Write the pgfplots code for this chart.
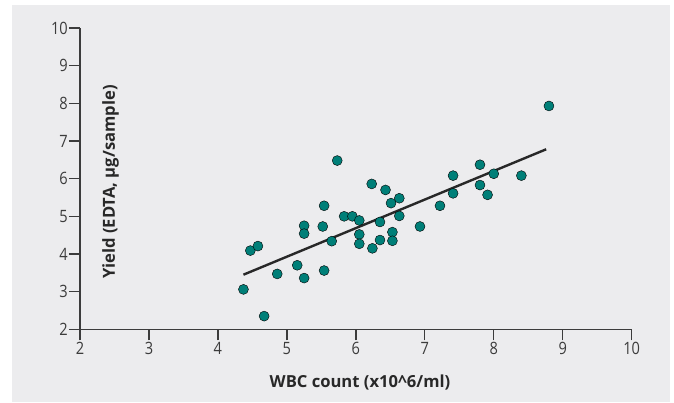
\documentclass[border=0pt]{standalone}
\usepackage{pgfplots}
\pgfplotsset{compat=1.18}
\usepackage{fontspec}
\setmainfont{Open Sans}[FakeStretch=0.86]
\newfontfamily\titlefont{Open Sans}
\definecolor{bg}{RGB}{236,236,238}
\definecolor{teal1}{RGB}{0,127,120}
\definecolor{axgray}{RGB}{60,60,60}
\definecolor{txt}{RGB}{40,40,40}
\begin{document}
\begin{tikzpicture}[x=1pt,y=1pt]
\path[use as bounding box] (-80,-72.7) rectangle (594,329.3);
\fill[bg] (-68,-72.7) rectangle (590,324.3);
\begin{axis}[
  at={(0,0)}, anchor=south west,
  scale only axis, width=551.7pt, height=301.3pt,
  xmin=2, xmax=10, ymin=2, ymax=10,
  xtick={2,3,...,10}, ytick={2,3,...,10},
  axis x line*=bottom, axis y line*=left,
  axis line style={axgray, line width=1.3pt},
  tick style={axgray, line width=1.3pt},
  tick align=outside, major tick length=11pt,
  /pgf/number format/assume math mode=true,
  ticklabel style={font=\fontsize{17}{20}\selectfont, text=axgray},
  yticklabel style={inner sep=1pt},
  xticklabel style={inner sep=2pt},
  clip=false,
  xlabel={WBC count (x10\textasciicircum 6/ml)},
  xlabel style={at={(axis cs:6.06,0.6)}, anchor=center, font=\titlefont\fontsize{16.6}{19}\selectfont\bfseries, text=txt},
]
\addplot[only marks, mark=*, mark size=5pt, mark options={draw=none, fill=teal1}] table {
x y
4.37 3.06
4.47 4.09
4.58 4.21
4.67 2.35
4.86 3.47
5.15 3.70
5.25 4.75
5.25 4.54
5.25 3.36
5.52 4.73
5.54 5.28
5.54 3.56
5.65 4.34
5.73 6.48
5.83 5.00
5.95 5.00
6.05 4.89
6.05 4.52
6.05 4.27
6.23 5.86
6.24 4.15
6.35 4.85
6.35 4.37
6.43 5.70
6.51 5.35
6.53 4.58
6.53 4.35
6.63 5.48
6.63 5.01
6.93 4.73
7.22 5.28
7.41 6.08
7.41 5.61
7.80 6.37
7.80 5.83
7.91 5.57
8.00 6.13
8.40 6.08
8.80 7.93
};
\addplot[color=txt, line width=2.4pt] coordinates {(4.37,3.45) (8.76,6.78)};
\node[rotate=90, anchor=center, font=\titlefont\fontsize{16.6}{19}\selectfont\bfseries, text=txt] at (axis cs:2.445,5.91) {Yield (EDTA, µg/sample)};
\end{axis}
\end{tikzpicture}
\end{document}
